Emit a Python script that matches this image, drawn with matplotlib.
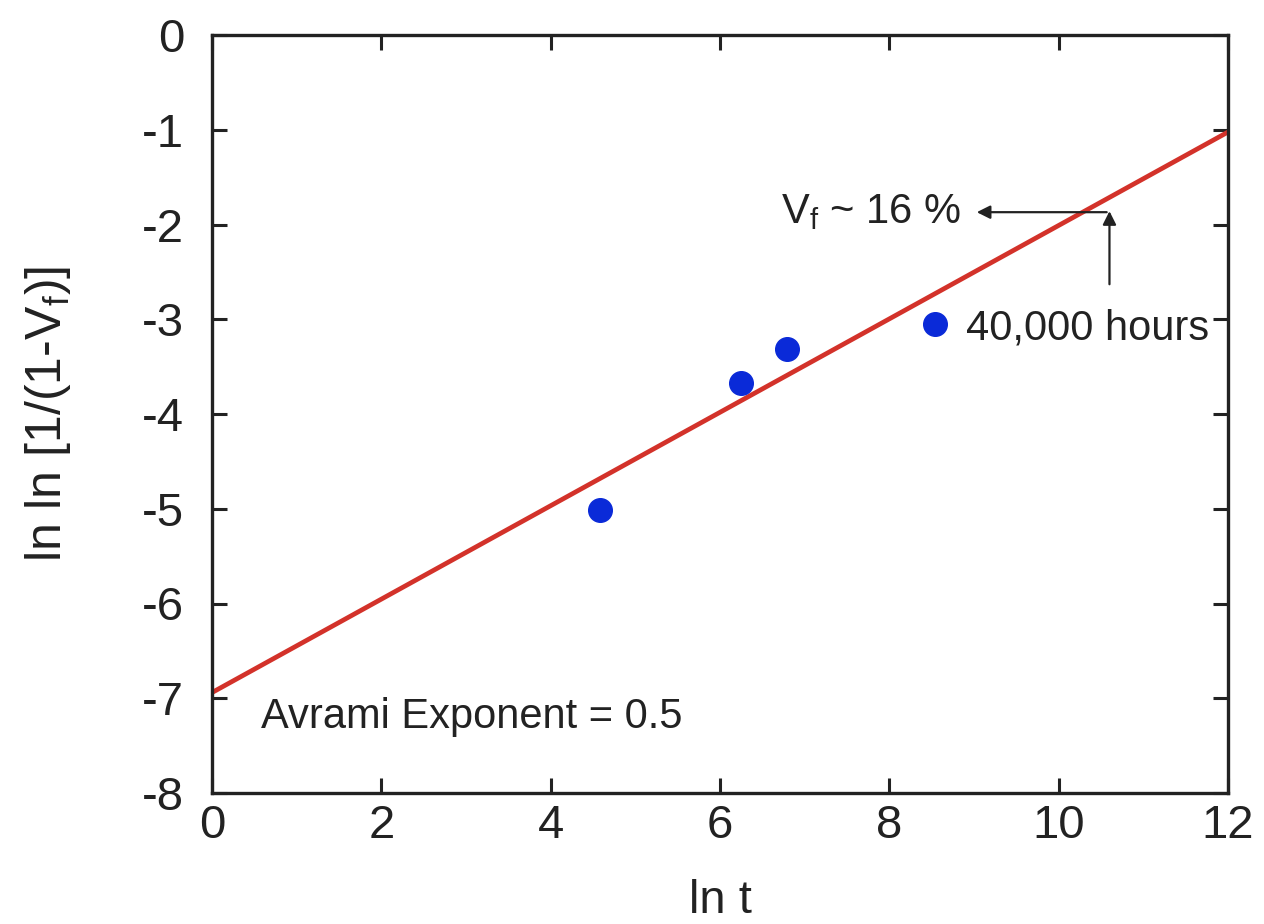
import matplotlib
matplotlib.use("Agg")
import matplotlib.pyplot as plt
import numpy as np

plt.rcParams['font.family'] = ['Liberation Sans', 'DejaVu Sans']
plt.rcParams['mathtext.fontset'] = 'custom'
plt.rcParams['mathtext.rm'] = 'Liberation Sans'
plt.rcParams['mathtext.it'] = 'Liberation Sans'
plt.rcParams['axes.unicode_minus'] = False

# data
ln_t = [4.58, 6.25, 6.79, 8.54]
lnln = [-5.01, -3.67, -3.31, -3.05]
fit_x = [0, 12]
fit_intercept = -6.94
fit_slope = 0.493
x_ticks = [0, 2, 4, 6, 8, 10, 12]
y_ticks = [0, -1, -2, -3, -4, -5, -6, -7, -8]

fig = plt.figure(figsize=(12.64, 9.24), dpi=100)
ax = fig.add_axes([212/1264, 1-793/924, 1016/1264, 758/924])

fx = np.array(fit_x, dtype=float)
ax.plot(fx, fit_intercept + fit_slope*fx, color='#d3322a', lw=3.4, zorder=2)
ax.plot(ln_t, lnln, 'o', color='#0a2ad8', ms=17, zorder=3)

ax.set_xlim(0, 12)
ax.set_ylim(-8, 0)
ax.set_xticks(x_ticks)
ax.set_yticks(y_ticks)
ax.set_xticklabels([str(v) for v in x_ticks])
ax.set_yticklabels([str(v) for v in y_ticks])
ax.tick_params(direction='in', length=11, width=2.2, labelsize=34, colors='#222222',
               top=True, right=True, pad=8)
ax.tick_params(axis='y', pad=20)
for s in ax.spines.values():
    s.set_linewidth(2.4)
    s.set_color('#222222')

ax.set_xlabel('ln t', fontsize=34, color='#222222', labelpad=22)
ax.set_ylabel(r'ln ln [1/(1-V$_\mathregular{f}$)]', fontsize=36, color='#222222', labelpad=50)

# annotations
ax.annotate('', xy=(9.0, -1.87), xytext=(10.6, -1.87),
            arrowprops=dict(arrowstyle='-|>', color='#222222', lw=1.6, mutation_scale=20))
ax.annotate('', xy=(10.6, -1.83), xytext=(10.6, -2.66),
            arrowprops=dict(arrowstyle='-|>', color='#222222', lw=1.6, mutation_scale=20))
ax.text(6.72, -1.87, r'V$_\mathregular{f}$ ~ 16 %', fontsize=30, color='#222222', va='center', ha='left')
ax.text(8.9, -3.1, '40,000 hours', fontsize=30, color='#222222', va='center', ha='left')
ax.text(0.58, -7.2, 'Avrami Exponent = 0.5', fontsize=30, color='#222222', va='center', ha='left')

fig.savefig('out.png', dpi=100)
